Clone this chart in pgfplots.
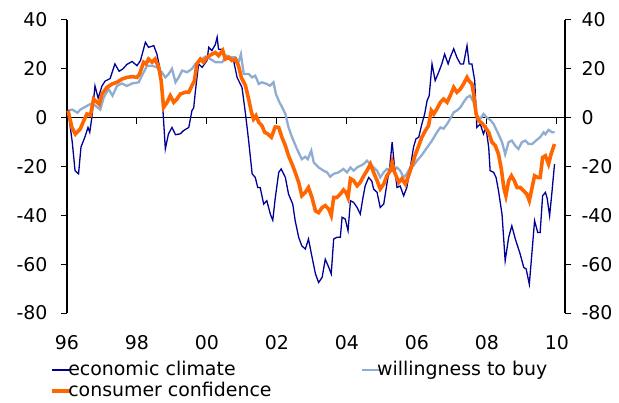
\documentclass[border=0pt]{standalone}
\usepackage{fontspec}
\setmainfont{DejaVu Sans}
\usepackage{pgfplots}
\pgfplotsset{compat=1.18}
\definecolor{navyc}{RGB}{0,0,150}
\definecolor{lblue}{RGB}{143,172,209}
\definecolor{orng}{RGB}{255,102,0}
\begin{document}
\begin{tikzpicture}[x=1bp,y=1bp]
\useasboundingbox (-67,-89) rectangle (552,313);
\begin{axis}[at={(0,0)}, anchor=south west, scale only axis,
  width=498bp, height=293bp,
  xmin=1996, xmax=2010.23, ymin=-80, ymax=40,
  axis y line*=left, axis x line*=bottom,
  x axis line style={draw=none},
  y axis line style={-, black, line width=1.1bp},
  ytick={-80,-60,...,40},
  xtick={1996,1998,...,2010},
  xticklabels={96,98,00,02,04,06,08,10},
  tick align=outside, major tick length=6bp,
  xtick style={draw=none},
  ytick style={black, line width=1bp},
  /pgf/number format/assume math mode=true,
  tick label style={font=\fontsize{19}{22}\selectfont},
  xticklabel style={yshift=-13bp},
  yticklabel style={xshift=-10bp},
  clip=false,
  legend columns=2,
  legend cell align=left,
  legend image code/.code={\draw[#1] (0bp,0bp) -- (13bp,0bp); \draw[#1, overlay] (13bp,0bp) -- (19bp,0bp);},
  legend style={draw=none, fill=none, at={(-0.04,-0.155)}, anchor=north west,
    font=\fontsize{19}{22}\selectfont, row sep=2bp,
    nodes={inner sep=1bp, text height=14bp, text depth=3bp},
    /tikz/every even column/.append style={column sep=88bp}},
]
\addlegendimage{navyc, line width=1.5bp}
\addlegendentry{economic climate}
\addlegendimage{lblue, line width=2.5bp}
\addlegendentry{willingness to buy}
\addlegendimage{orng, line width=4bp}
\addlegendentry{consumer confidence}
% zero line and its ticks
\addplot[black, line width=1bp, forget plot] coordinates {(1996,0) (2010.23,0)};
\addplot[black, line width=1bp, ycomb, forget plot] coordinates {(1998,-2.5) (2000,-2.5) (2002,-2.5) (2004,-2.5) (2006,-2.5) (2008,-2.5) (2010,-2.5)};
% willingness to buy
\addplot[lblue, line width=2.3bp, forget plot] coordinates {
(1996.03,2.9) (1996.15,3.3) (1996.3,2) (1996.38,3.3) (1996.52,4.4) (1996.67,5.6) (1996.8,5) (1996.95,3.3)
(1997.05,8.3) (1997.19,11.7) (1997.3,9) (1997.43,13) (1997.57,14) (1997.71,13) (1997.86,14)
(1998.05,14.5) (1998.14,17.2) (1998.29,21.3) (1998.43,21.3) (1998.57,20.6) (1998.71,18.6) (1998.81,16.5) (1998.9,17.8)
(1999.0,20) (1999.1,14.5) (1999.19,16.5) (1999.29,19.3) (1999.43,18.6) (1999.57,20) (1999.67,22) (1999.8,23.4) (1999.95,25)
(2000.1,24) (2000.24,22.7) (2000.43,22.7) (2000.57,25.4) (2000.67,24.7) (2000.81,24.7) (2000.9,22.7) (2000.97,26)
(2001.05,17.9) (2001.19,17.9) (2001.29,16.5) (2001.38,17.2) (2001.48,13.8) (2001.57,14.5) (2001.71,13.8) (2001.8,13.1) (2001.9,14.5) (2001.97,9.7)
(2002.07,6.3) (2002.14,4.5) (2002.24,1.5) (2002.33,-4) (2002.43,-8) (2002.57,-12.8) (2002.71,-17) (2002.81,-16) (2002.88,-17) (2002.98,-13.5)
(2003.05,-18.3) (2003.19,-20.4) (2003.33,-21.7) (2003.43,-22.4) (2003.52,-24.2) (2003.62,-23) (2003.76,-22.4) (2003.9,-21)
(2004.0,-22.4) (2004.1,-20.4) (2004.19,-21.7) (2004.29,-20.4) (2004.38,-19.7) (2004.48,-19) (2004.57,-17.6) (2004.67,-19) (2004.76,-20.4) (2004.86,-21.7) (2004.95,-24.5)
(2005.05,-22.4) (2005.14,-21) (2005.24,-21.7) (2005.33,-21.7) (2005.43,-20.4) (2005.52,-21.7) (2005.62,-24.5) (2005.71,-23) (2005.81,-20.4) (2005.9,-19.7)
(2006.0,-17.6) (2006.14,-15.3) (2006.29,-12.2) (2006.43,-9.4) (2006.57,-6) (2006.67,-4) (2006.76,-4.5) (2006.86,-2.6) (2006.95,-0.5)
(2007.05,2.2) (2007.14,2.9) (2007.24,4.2) (2007.33,6.3) (2007.43,8.3) (2007.52,9) (2007.62,6.3) (2007.71,0.8) (2007.81,-0.5) (2007.9,1.5)
(2008.0,0) (2008.1,-1) (2008.19,-2.6) (2008.33,-6.8) (2008.43,-10) (2008.52,-15) (2008.62,-10) (2008.71,-9.4) (2008.81,-11.5) (2008.9,-12.8)
(2009.0,-10) (2009.1,-9.4) (2009.19,-10.8) (2009.29,-10.8) (2009.4,-9.4) (2009.52,-8) (2009.62,-6) (2009.67,-6.8) (2009.76,-5) (2009.86,-6) (2009.93,-6)
};
% economic climate
\addplot[navyc, line width=1.3bp, forget plot] coordinates {
(1996.03,3) (1996.15,-10) (1996.23,-21.7) (1996.33,-23) (1996.4,-12) (1996.51,-8) (1996.6,-4) (1996.65,-6) (1996.71,0) (1996.8,13) (1996.89,8)
(1997.0,13) (1997.09,15) (1997.23,16) (1997.37,22) (1997.49,19) (1997.6,20) (1997.71,21.8) (1997.86,23)
(1998.0,21.3) (1998.1,23.4) (1998.24,30.9) (1998.33,28.8) (1998.48,29.5) (1998.57,26) (1998.67,19) (1998.73,5.7) (1998.81,-12.8) (1998.9,-6.6)
(1999.0,-4) (1999.1,-7) (1999.24,-6.6) (1999.33,-5.3) (1999.48,-4) (1999.57,2.9) (1999.62,4) (1999.67,11) (1999.76,22) (1999.86,20.6)
(2000.0,23.4) (2000.05,28.8) (2000.14,27.5) (2000.24,30) (2000.29,33) (2000.33,28) (2000.43,28) (2000.52,24.7) (2000.62,24) (2000.76,23.4) (2000.86,16.5)
(2001.0,12.4) (2001.1,1.6) (2001.19,-9.4) (2001.29,-23) (2001.38,-24.5) (2001.45,-28.6) (2001.52,-28.6) (2001.62,-35.4) (2001.71,-34) (2001.81,-39.5) (2001.88,-42) (2001.95,-33)
(2002.05,-22.4) (2002.12,-21) (2002.24,-24.5) (2002.33,-31.3) (2002.45,-35.4) (2002.52,-42.2) (2002.62,-49) (2002.71,-52.5) (2002.81,-53.8) (2002.9,-49.7)
(2003.0,-57) (2003.1,-64) (2003.19,-67.5) (2003.29,-65.4) (2003.38,-58) (2003.48,-61.3) (2003.55,-64) (2003.62,-49.7) (2003.71,-49) (2003.81,-49) (2003.86,-40.8) (2003.95,-41.5)
(2004.03,-46.3) (2004.1,-34) (2004.19,-34.7) (2004.29,-36.8) (2004.38,-39.5) (2004.45,-33.3) (2004.52,-27.9) (2004.62,-24.5) (2004.71,-26) (2004.76,-29.2) (2004.86,-30.6) (2004.95,-36.8)
(2005.05,-35.4) (2005.14,-27.2) (2005.22,-20.4) (2005.29,-10) (2005.36,-20.4) (2005.43,-28.6) (2005.52,-28) (2005.62,-32) (2005.71,-28.6) (2005.81,-20.4) (2005.9,-12.2) (2005.97,-8.7)
(2006.05,-8) (2006.14,-2.6) (2006.22,1.5) (2006.29,7) (2006.35,9) (2006.43,22) (2006.52,15.2) (2006.62,18.6) (2006.71,22) (2006.79,26) (2006.89,22) (2006.95,24.7)
(2007.05,28.2) (2007.14,24.7) (2007.24,22) (2007.33,22) (2007.43,29.5) (2007.49,22) (2007.57,22) (2007.65,15.2) (2007.71,-4) (2007.81,-2.6) (2007.9,-6.7) (2007.97,-4)
(2008.05,-12.2) (2008.09,-21.7) (2008.19,-22.4) (2008.26,-24.5) (2008.33,-30) (2008.43,-39.5) (2008.52,-58.6) (2008.62,-49) (2008.71,-44.3) (2008.81,-49.7) (2008.95,-55.9)
(2009.05,-61.3) (2009.12,-62) (2009.21,-68.2) (2009.29,-54.5) (2009.36,-42.2) (2009.45,-47) (2009.52,-47) (2009.59,-32) (2009.67,-30.6) (2009.72,-33) (2009.79,-40.2) (2009.86,-30) (2009.93,-19)
};
% consumer confidence
\addplot[orng, line width=3.6bp, forget plot] coordinates {
(1996.03,2.9) (1996.14,-4) (1996.24,-6.7) (1996.38,-4.6) (1996.48,-1.2) (1996.57,1.5) (1996.67,1) (1996.76,7.6) (1996.86,6.3) (1996.92,5.5)
(1997.0,9.7) (1997.14,12.4) (1997.29,13.8) (1997.43,14.5) (1997.57,15.8) (1997.71,16.5) (1997.86,16.8)
(1998.0,16.5) (1998.07,17.8) (1998.19,22.7) (1998.26,22) (1998.33,24) (1998.43,22.7) (1998.52,24) (1998.62,20.6) (1998.69,15.2) (1998.76,4.2) (1998.86,6.3) (1998.95,9)
(1999.05,6.3) (1999.14,7.6) (1999.24,9.7) (1999.38,10.4) (1999.48,10.4) (1999.57,13.1) (1999.64,15) (1999.71,22) (1999.81,24) (1999.9,22.7)
(2000.0,24.7) (2000.14,26) (2000.24,26.7) (2000.33,25.4) (2000.45,27.5) (2000.52,24) (2000.62,24.7) (2000.71,23.4) (2000.81,24) (2000.9,21.3) (2000.98,16.5)
(2001.1,13.1) (2001.19,7.6) (2001.27,2.2) (2001.33,-0.6) (2001.4,0.8) (2001.48,-1.9) (2001.57,-3.3) (2001.65,-6) (2001.74,-6.7) (2001.84,-8) (2001.95,-3.8)
(2002.05,-4) (2002.14,-8) (2002.24,-11.5) (2002.33,-15.6) (2002.43,-19) (2002.52,-22.4) (2002.62,-26.5) (2002.71,-32) (2002.81,-30.6) (2002.9,-28.6)
(2003.0,-32.7) (2003.1,-38.2) (2003.19,-38.9) (2003.29,-36.8) (2003.38,-36) (2003.48,-37.5) (2003.55,-40) (2003.62,-32.7) (2003.71,-32.7) (2003.81,-31.3) (2003.9,-29.6) (2003.97,-30.6)
(2004.03,-32.7) (2004.1,-25) (2004.19,-25.8) (2004.29,-27.9) (2004.38,-26.5) (2004.48,-23.8) (2004.57,-21.7) (2004.67,-19) (2004.76,-22.4) (2004.86,-25.8) (2004.95,-29.2)
(2005.05,-27.2) (2005.14,-23.8) (2005.24,-21.7) (2005.29,-18.3) (2005.36,-22.4) (2005.48,-26.5) (2005.57,-25) (2005.67,-27.2) (2005.76,-23.8) (2005.86,-19.4) (2005.95,-15.3)
(2006.05,-11.5) (2006.14,-8) (2006.24,-5.3) (2006.33,-3.3) (2006.41,2.9) (2006.48,1.5) (2006.57,3.6) (2006.67,6.3) (2006.76,7.6) (2006.86,6.3) (2006.95,9)
(2007.05,12.4) (2007.14,10.4) (2007.24,11.7) (2007.33,13.8) (2007.43,16.5) (2007.49,15) (2007.57,13.8) (2007.62,9.7) (2007.69,1.5) (2007.76,-1.2) (2007.86,-2.3) (2007.97,-4.3)
(2008.05,-6) (2008.14,-10) (2008.24,-11.5) (2008.33,-15) (2008.41,-21) (2008.48,-28.6) (2008.54,-32) (2008.62,-25.8) (2008.7,-23.8) (2008.78,-25.8) (2008.86,-28.6) (2008.95,-28.6)
(2009.05,-30) (2009.14,-31.3) (2009.21,-34) (2009.29,-28.6) (2009.36,-23.8) (2009.45,-24.5) (2009.52,-24.5) (2009.59,-16.3) (2009.67,-15.6) (2009.76,-19) (2009.83,-15) (2009.93,-10.8)
};
\end{axis}
\begin{axis}[at={(0,0)}, anchor=south west, scale only axis,
  width=498bp, height=293bp,
  xmin=1996, xmax=2010.23, ymin=-80, ymax=40,
  axis y line*=right, hide x axis,
  y axis line style={-, black, line width=1.1bp},
  ytick={-80,-60,...,40},
  tick align=outside, major tick length=6bp,
  ytick style={black, line width=1bp},
  /pgf/number format/assume math mode=true,
  tick label style={font=\fontsize{19}{22}\selectfont},
  yticklabel style={xshift=7bp},
]
\addplot[draw=none] coordinates {(2000,0)};
\end{axis}
\end{tikzpicture}
\end{document}
